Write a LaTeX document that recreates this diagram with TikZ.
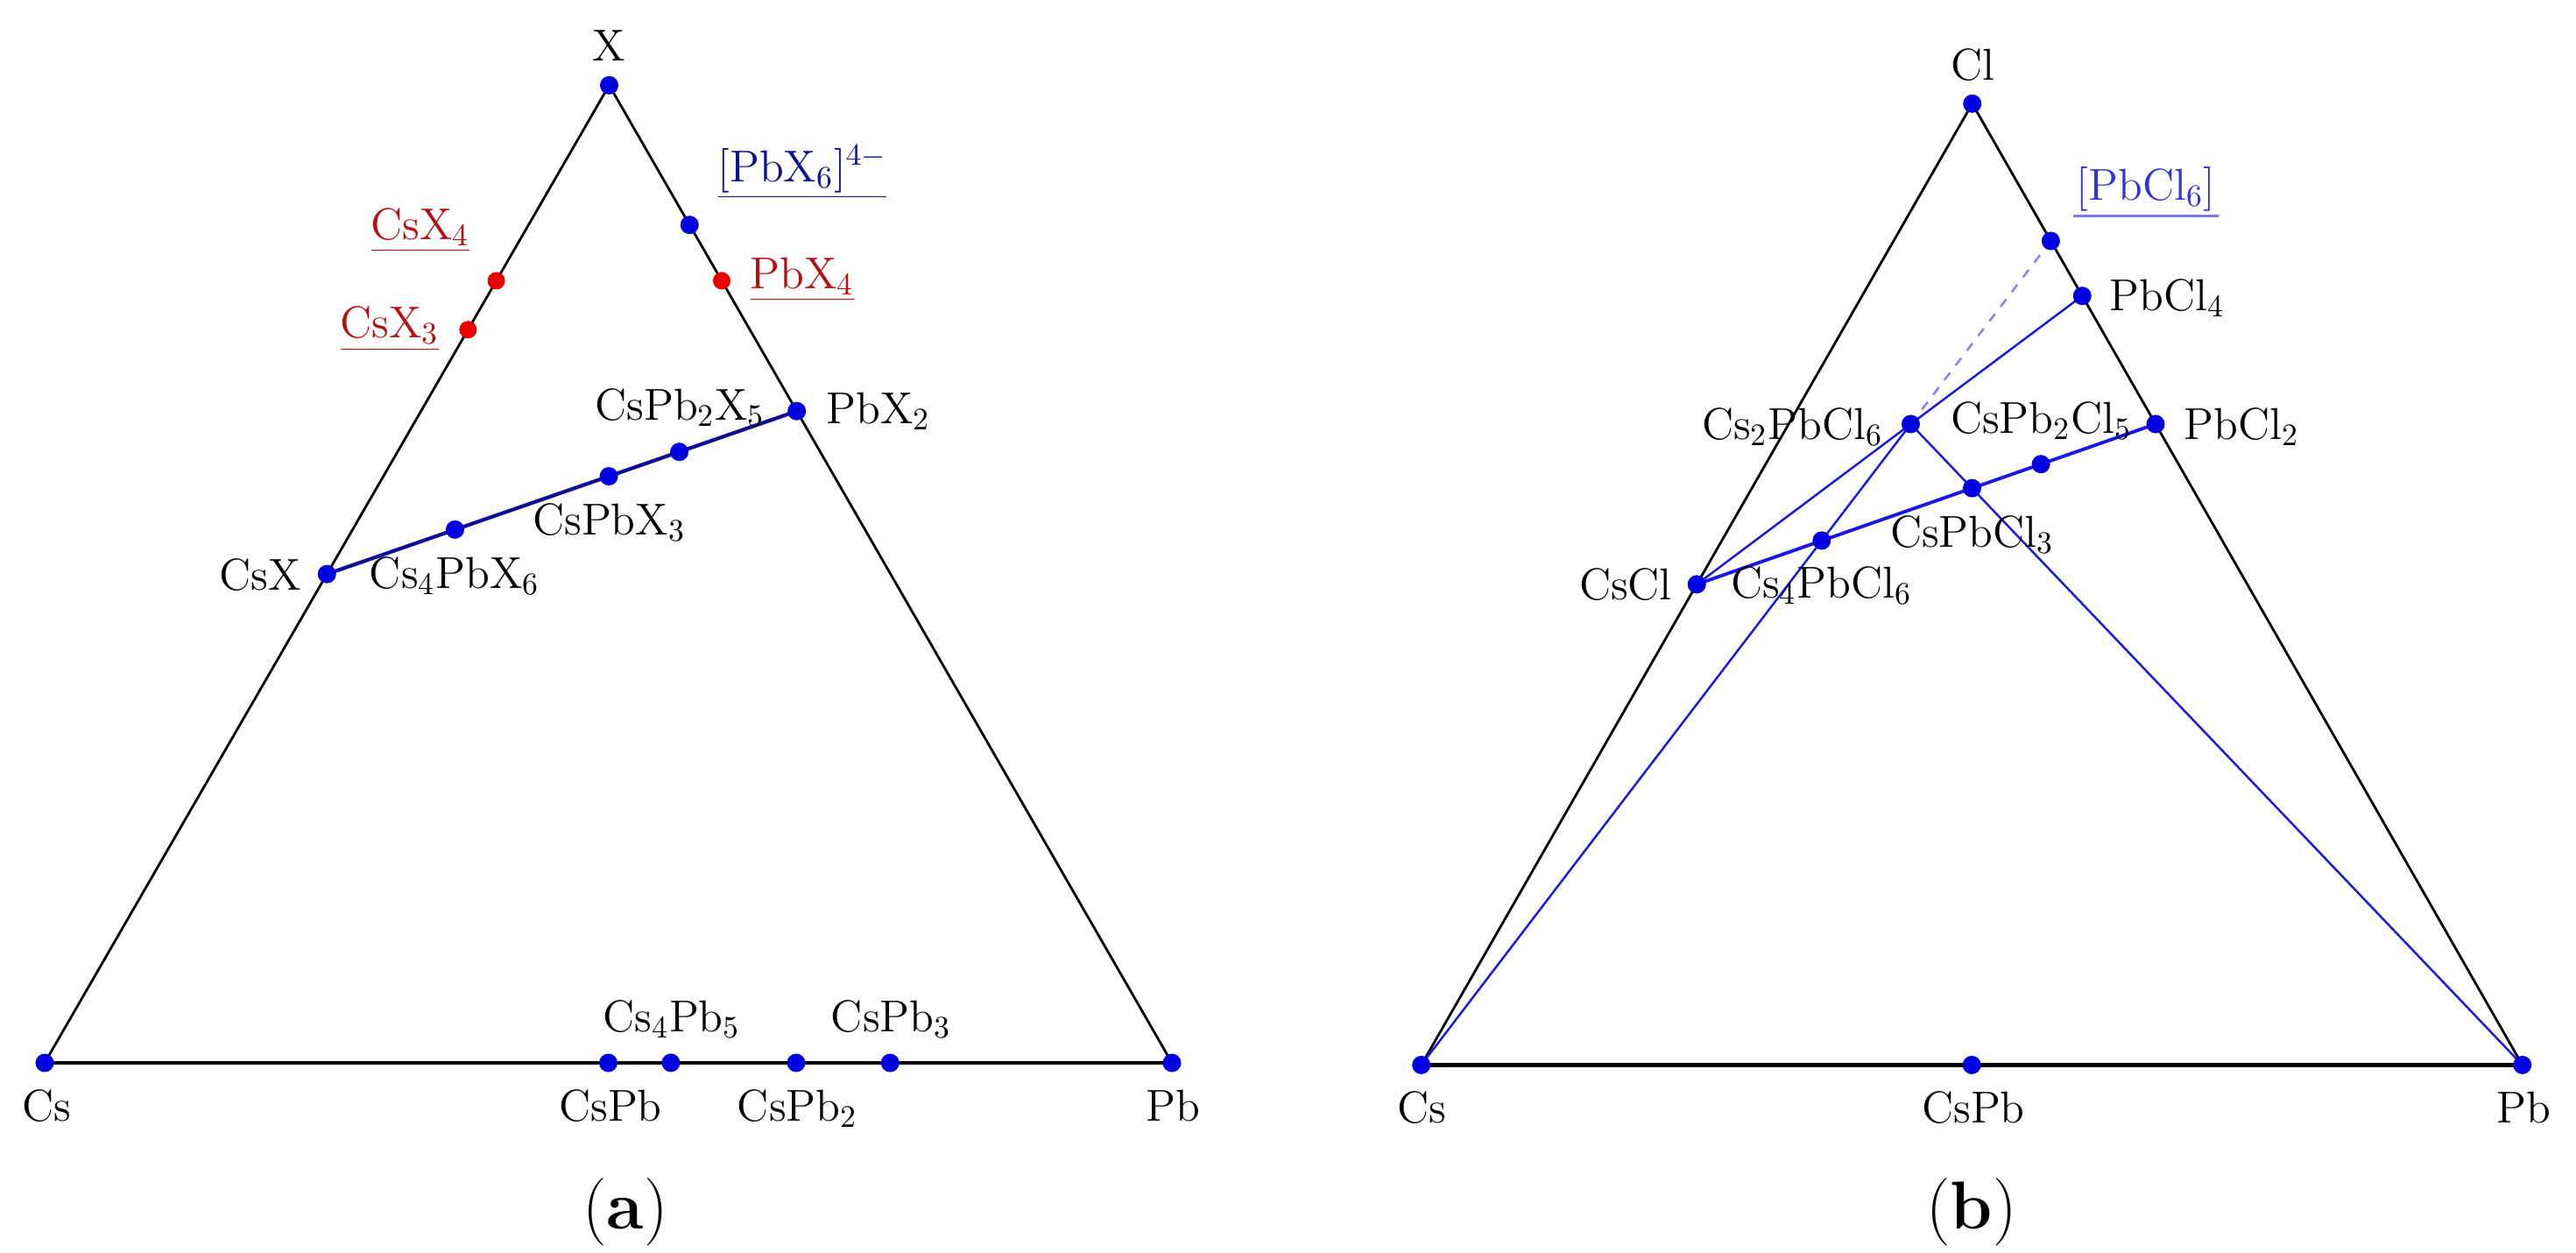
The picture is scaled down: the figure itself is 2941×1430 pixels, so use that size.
\documentclass[tikz,border=0pt]{standalone}
\usepackage{fontspec}
\begin{document}
\definecolor{dotblue}{RGB}{0,0,225}
\definecolor{navyline}{RGB}{15,15,150}
\definecolor{dotred}{RGB}{235,0,0}
\definecolor{labred}{RGB}{185,15,15}
\definecolor{lineblue}{RGB}{25,25,225}
\definecolor{lightblue}{RGB}{50,50,220}
\definecolor{ulblue}{RGB}{120,120,230}
\definecolor{dashblue}{RGB}{130,130,240}
\begin{tikzpicture}[x=0.01cm,y=-0.01cm,
  tri/.style={black, line width=0.8pt},
  triBase/.style={black, line width=1.2pt},
  dot/.style={circle, fill=dotblue, inner sep=0pt, minimum size=0.21cm},
  rdot/.style={dot, fill=dotred, minimum size=0.2cm},
  lab/.style={anchor=base, inner sep=0pt, font=\fontsize{14.5}{17}\selectfont},
  captext/.style={anchor=base, inner sep=0pt, font=\fontsize{22}{26}\selectfont},
  navyLine/.style={navyline, line width=1.2pt},
  bthick/.style={lineblue, line width=1.1pt},
  bthin/.style={lineblue, line width=0.7pt},
  bdash/.style={dashblue, line width=0.7pt, dashed}]
\useasboundingbox (0,0) rectangle (2941,1430);

%================ (a) =================
\coordinate (aX) at (695.5,97.3);
\coordinate (aCs) at (51,1213);
\coordinate (aPb) at (1338,1213);
\coordinate (aCsX) at (barycentric cs:aCs=1,aX=1);
\coordinate (aCsX3) at (barycentric cs:aCs=1,aX=3);
\coordinate (aCsX4) at (barycentric cs:aCs=1,aX=4);
\coordinate (aPbX2) at (barycentric cs:aPb=1,aX=2);
\coordinate (aPbX4) at (barycentric cs:aPb=1,aX=4);
\coordinate (aPbX6) at (barycentric cs:aPb=1,aX=6);
\coordinate (aCs4PbX6) at (barycentric cs:aCs=4,aPb=1,aX=6);
\coordinate (aCsPbX3) at (barycentric cs:aCs=1,aPb=1,aX=3);
\coordinate (aCsPb2X5) at (barycentric cs:aCs=1,aPb=2,aX=5);
\coordinate (aCsPb) at (barycentric cs:aCs=1,aPb=1);
\coordinate (aCs4Pb5) at (barycentric cs:aCs=4,aPb=5);
\coordinate (aCsPb2) at (barycentric cs:aCs=1,aPb=2);
\coordinate (aCsPb3) at (barycentric cs:aCs=1,aPb=3);

\draw[tri] (aCs) -- (aX) -- (aPb);
\draw[triBase] (aCs) -- (aPb);
\draw[navyLine] (aCsX) -- (aPbX2);

\foreach \p in {aX,aCs,aPb,aCsX,aPbX2,aPbX6,aCs4PbX6,aCsPbX3,aCsPb2X5,aCsPb,aCs4Pb5,aCsPb2,aCsPb3}
  \node[dot] (d\p) at (\p) {};
\foreach \p in {aCsX3,aCsX4,aPbX4}
  \node[rdot] (d\p) at (\p) {};

\node[lab] (lX) at (695.5,69) {X};
\node[lab, text=navyline] (lPbX6) at (916,207) {$\underline{[\mathrm{PbX_6}]^{4-}}$};
\node[lab, text=labred] (lCsX4) at (480,273) {$\underline{\mathrm{CsX_4}}$};
\node[lab, text=labred] (lCsX3) at (445,385) {$\underline{\mathrm{CsX_3}}$};
\node[lab, text=labred] (lPbX4) at (916,329) {$\underline{\mathrm{PbX_4}}$};
\node[lab] (lCsPb2X5) at (776.5,479) {$\mathrm{CsPb_2X_5}$};
\node[lab] (lPbX2) at (1003,483) {$\mathrm{PbX_2}$};
\node[lab] (lCsPbX3) at (695.5,610) {$\mathrm{CsPbX_3}$};
\node[lab] (lCsX) at (297,673) {CsX};
\node[lab] (lCs4PbX6) at (519,671) {$\mathrm{Cs_4PbX_6}$};
\node[lab] (lCs4Pb5) at (767,1177) {$\mathrm{Cs_4Pb_5}$};
\node[lab] (lCsPb3) at (1017.5,1177) {$\mathrm{CsPb_3}$};
\node[lab] (laCs) at (53.5,1279) {Cs};
\node[lab] (laCsPb) at (697,1279) {CsPb};
\node[lab] (lCsPb2) at (910.5,1279) {$\mathrm{CsPb_2}$};
\node[lab] (laPb) at (1339.5,1279) {Pb};
\node[captext] (capA) at (714,1402) {(\textbf{a})};

%================ (b) =================
\coordinate (bCl) at (2251.7,118.3);
\coordinate (bCs) at (1622.7,1215.4);
\coordinate (bPb) at (2879.7,1215.4);
\coordinate (bCsCl) at (barycentric cs:bCs=1,bCl=1);
\coordinate (bPbCl2) at (barycentric cs:bPb=1,bCl=2);
\coordinate (bPbCl4) at (barycentric cs:bPb=1,bCl=4);
\coordinate (bPbCl6) at (barycentric cs:bPb=1,bCl=6);
\coordinate (bCs2PbCl6) at (barycentric cs:bCs=2,bPb=1,bCl=6);
\coordinate (bCs4PbCl6) at (barycentric cs:bCs=4,bPb=1,bCl=6);
\coordinate (bCsPbCl3) at (barycentric cs:bCs=1,bPb=1,bCl=3);
\coordinate (bCsPb2Cl5) at (barycentric cs:bCs=1,bPb=2,bCl=5);
\coordinate (bCsPb) at (barycentric cs:bCs=1,bPb=1);

\draw[tri] (bCs) -- (bCl) -- (bPb);
\draw[triBase] (bCs) -- (bPb);
\draw[bdash] (bCs2PbCl6) -- (bPbCl6);
\draw[bthin] (bCs2PbCl6) -- (bPbCl4);
\draw[bthin] (bCsCl) -- (bCs2PbCl6);
\draw[bthin] (bCs) -- (bCs2PbCl6);
\draw[bthin] (bCs2PbCl6) -- (bPb);
\draw[bthick] (bCsCl) -- (bPbCl2);

\foreach \p in {bCl,bCs,bPb,bCsCl,bPbCl2,bPbCl4,bPbCl6,bCs2PbCl6,bCs4PbCl6,bCsPbCl3,bCsPb2Cl5,bCsPb}
  \node[dot] (d\p) at (\p) {};

\node[lab] (lCl) at (2252,91) {Cl};
\node[lab, text=lightblue] (lPbCl6) at (2450,228) {$[\mathrm{PbCl_6}]$};
\draw[ulblue, line width=1pt] ([yshift=-0.05cm,xshift=-0.03cm]lPbCl6.south west) -- ([yshift=-0.05cm,xshift=0.03cm]lPbCl6.south east);
\node[lab] (lPbCl4) at (2474,354) {$\mathrm{PbCl_4}$};
\node[lab] (lCs2PbCl6) at (2046.5,501) {$\mathrm{Cs_2PbCl_6}$};
\node[lab] (lCsPb2Cl5) at (2330.5,494) {$\mathrm{CsPb_2Cl_5}$};
\node[lab] (lPbCl2) at (2559,501) {$\mathrm{PbCl_2}$};
\node[lab] (lCsPbCl3) at (2251.5,624) {$\mathrm{CsPbCl_3}$};
\node[lab] (lCsCl) at (1856,684) {CsCl};
\node[lab] (lCs4PbCl6) at (2079.5,682) {$\mathrm{Cs_4PbCl_6}$};
\node[lab] (lbCs) at (1623,1281) {Cs};
\node[lab] (lbCsPb) at (2253,1281) {CsPb};
\node[lab] (lbPb) at (2881,1281) {Pb};
\node[captext] (capB) at (2251,1402) {(\textbf{b})};
\end{tikzpicture}
\end{document}
